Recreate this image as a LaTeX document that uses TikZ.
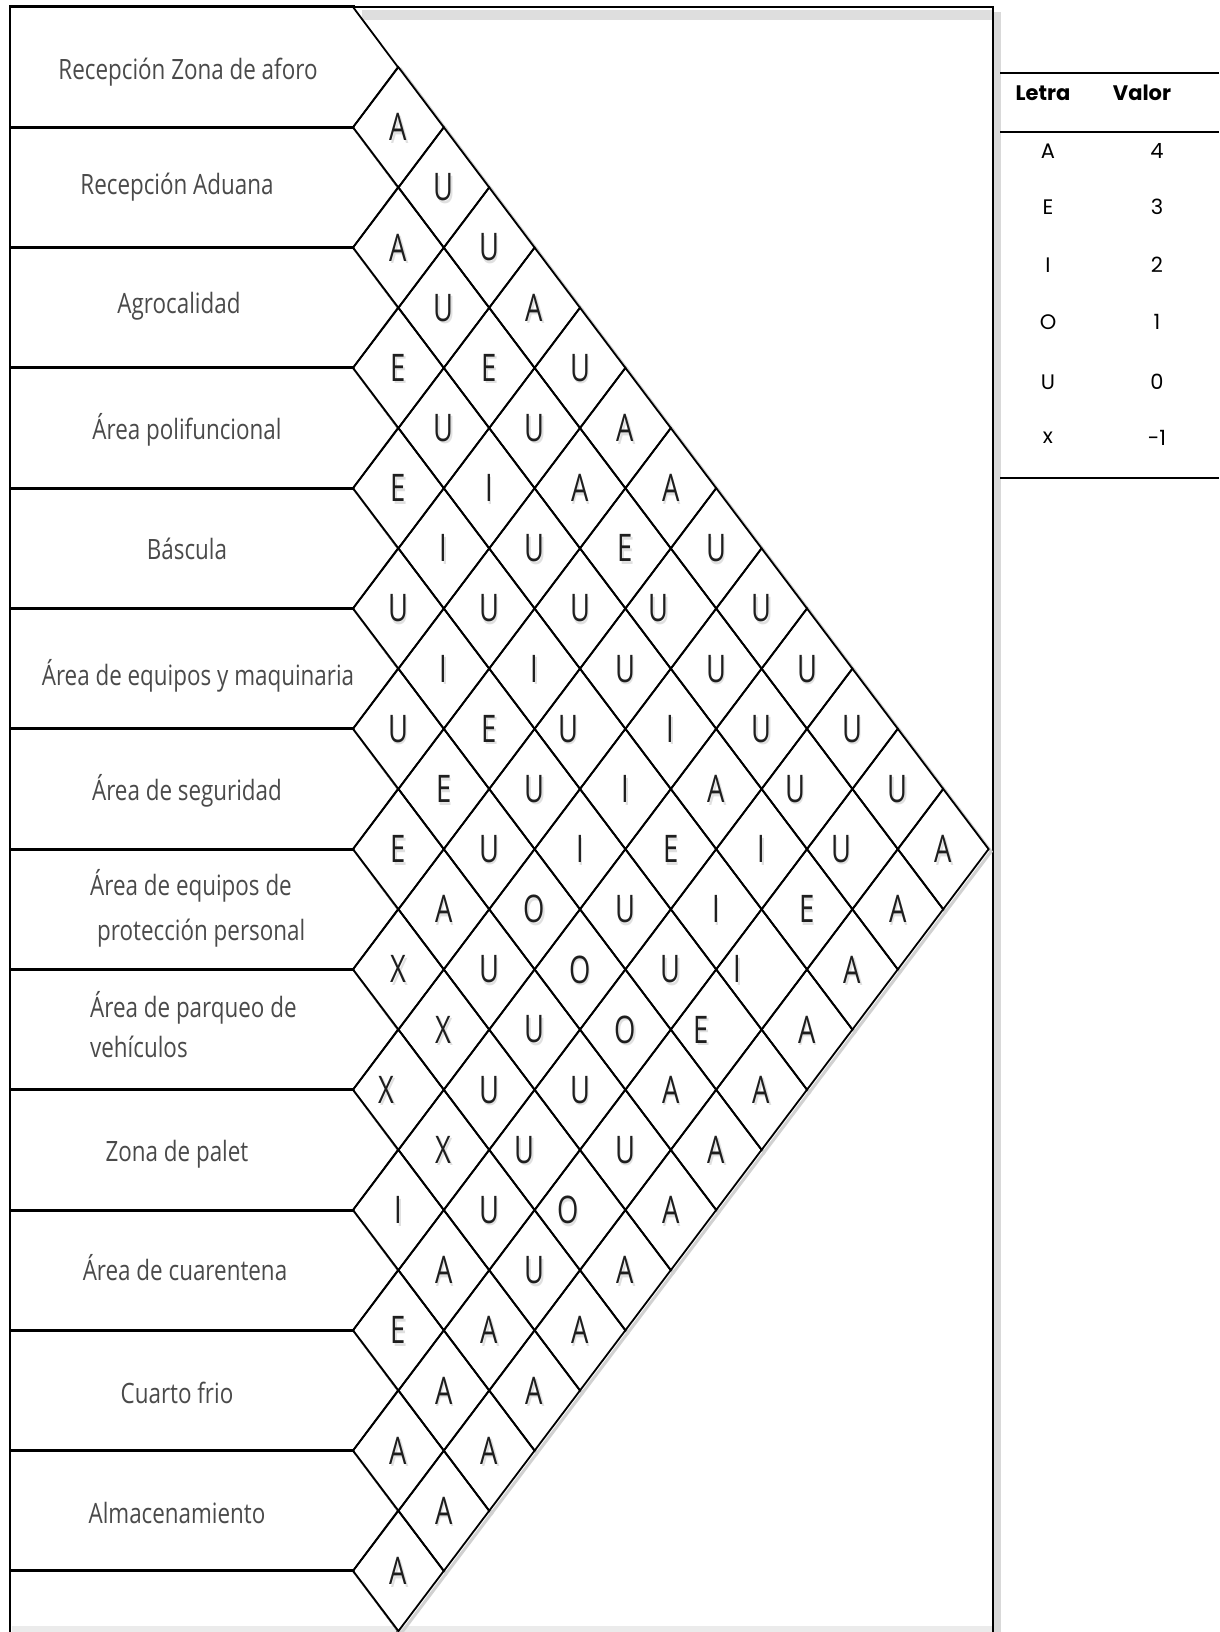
\documentclass[tikz,border=0pt]{standalone}
\usepackage{fontspec}
\setmainfont{Open Sans}
\newfontfamily\labfont[FakeStretch=0.8]{Open Sans}
\newfontfamily\letfont[FakeStretch=0.72]{Open Sans}
\newfontfamily\tabfont{Poppins}
\definecolor{labgray}{HTML}{4A4A4A}
\definecolor{letblack}{HTML}{1E1E1E}
\tikzset{
  lab/.style={font=\labfont\fontsize{28}{34}\selectfont, text=labgray, inner sep=0pt},
  letter/.style={font=\letfont\fontsize{38}{40}\selectfont, text=letblack, inner sep=0pt},
  lettershadow/.style={font=\letfont\fontsize{38}{40}\selectfont, text=black!12, inner sep=0pt},
  thead/.style={font=\tabfont\bfseries\fontsize{21}{24}\selectfont, inner sep=0pt},
  tcell/.style={font=\tabfont\fontsize{21}{24}\selectfont, inner sep=0pt},
  tline/.style={line width=2pt},
  hline/.style={line width=3pt, line cap=rect},
  chev/.style={line width=1.8pt, line join=miter},
  dline/.style={line width=1.8pt, line join=miter},
  dshadow/.style={line width=3pt, draw=black!18, line join=miter},
}
\def\pairs{1/2/A/0,1/3/U/0,1/4/U/0,1/5/A/0,1/6/U/0,1/7/A/0,1/8/A/0,1/9/U/0,1/10/U/0,1/11/U/0,1/12/U/0,1/13/U/0,1/14/A/0,
2/3/A/0,2/4/U/0,2/5/E/0,2/6/U/0,2/7/A/0,2/8/E/0,2/9/U/-12,2/10/U/0,2/11/U/0,2/12/U/-12,2/13/U/-11,2/14/A/0,
3/4/E/0,3/5/U/0,3/6/I/0,3/7/U/0,3/8/U/0,3/9/U/0,3/10/I/0,3/11/A/0,3/12/I/0,3/13/E/0,3/14/A/0,
4/5/E/0,4/6/I/0,4/7/U/0,4/8/I/0,4/9/U/-12,4/10/I/0,4/11/E/0,4/12/I/0,4/13/I/-24,4/14/A/0,
5/6/U/0,5/7/I/0,5/8/E/0,5/9/U/0,5/10/I/0,5/11/U/0,5/12/U/0,5/13/E/-15,5/14/A/0,
6/7/U/0,6/8/E/0,6/9/U/0,6/10/O/0,6/11/O/0,6/12/O/0,6/13/A/0,6/14/A/0,
7/8/E/0,7/9/A/0,7/10/U/0,7/11/U/0,7/12/U/0,7/13/U/0,7/14/A/0,
8/9/X/0,8/10/X/0,8/11/U/0,8/12/U/-10,8/13/O/-12,8/14/A/0,
9/10/X/-12,9/11/X/0,9/12/U/0,9/13/U/0,9/14/A/0,
10/11/I/0,10/12/A/0,10/13/A/0,10/14/A/0,
11/12/E/0,11/13/A/0,11/14/A/0,
12/13/A/0,12/14/A/0,
13/14/A/0}
\begin{document}
\begin{tikzpicture}[x=1pt,y=-1pt]
\useasboundingbox (0,0) rectangle (1219,1632);
\fill[white] (0,0) rectangle (1219,1632);
% frame with its shading
\fill[black!15] (994,12) rectangle (1001,1640);
\fill[black!13] (362,10) rectangle (993,20);
\fill[black!8] (12,1626) rectangle (993,1632);
\draw[line width=1.2pt] (10,7) rectangle (993,1660);
\draw[line width=2.4pt] (10,7) -- (10,1660);
% label boxes: chevrons and row lines
\foreach \k in {1,...,14} {
  \pgfmathsetmacro\ya{7+120.3*(\k-1)}
  \pgfmathsetmacro\yb{7+120.3*\k}
  \pgfmathsetmacro\yc{7+120.3*(\k-0.5)}
  \draw[chev] (353,\ya) -- (398,\yc) -- (353,\yb);
}
\foreach \k in {0,...,13} {
  \pgfmathsetmacro\ya{7+120.3*\k}
  \draw[hline] (10,\ya) -- (353,\ya);
}
% diamond shadows
\foreach \i/\j/\l/\o in \pairs {
  \pgfmathsetmacro\cx{353+45.4*(\j-\i)+2.5}
  \pgfmathsetmacro\cy{7+120.3*((\i+\j)/2-0.5)+2.5}
  \draw[dshadow] ({\cx-45.4},\cy) -- (\cx,{\cy-60.15}) -- ({\cx+45.4},\cy) -- (\cx,{\cy+60.15}) -- cycle;
}
% diamonds
\foreach \i/\j/\l/\o in \pairs {
  \pgfmathsetmacro\cx{353+45.4*(\j-\i)}
  \pgfmathsetmacro\cy{7+120.3*((\i+\j)/2-0.5)}
  \fill[white] ({\cx-44},\cy) -- (\cx,{\cy-58.5}) -- ({\cx+44},\cy) -- (\cx,{\cy+58.5}) -- cycle;
}
\foreach \i/\j/\l/\o in \pairs {
  \pgfmathsetmacro\cx{353+45.4*(\j-\i)}
  \pgfmathsetmacro\cy{7+120.3*((\i+\j)/2-0.5)}
  \draw[dline] ({\cx-45.4},\cy) -- (\cx,{\cy-60.15}) -- ({\cx+45.4},\cy) -- (\cx,{\cy+60.15}) -- cycle;
  \node[lettershadow] at ({\cx+\o+1.5},{\cy+2.5}) {\l};
  \node[letter] (p\i-\j) at ({\cx+\o},\cy) {\l};
}
% department labels
\node[lab, anchor=base] (r1) at (188,80) {Recepción Zona de aforo};
\node[lab, anchor=base] (r2) at (177,195) {Recepción Aduana};
\node[lab, anchor=base] (r3) at (179,313) {Agrocalidad};
\node[lab, anchor=base] (r4) at (187,439) {Área polifuncional};
\node[lab, anchor=base] (r5) at (187,559) {Báscula};
\node[lab, anchor=base] (r6) at (198,685) {Área de equipos y maquinaria};
\node[lab, anchor=base] (r7) at (187,800) {Área de seguridad};
\node[lab, anchor=base west] (r8a) at (90,895) {Área de equipos de};
\node[lab, anchor=base west] (r8b) at (97,940) {protección personal};
\node[lab, anchor=base west] (r9a) at (90,1017) {Área de parqueo de};
\node[lab, anchor=base west] (r9b) at (90,1057) {vehículos};
\node[lab, anchor=base] (r10) at (177,1161) {Zona de palet};
\node[lab, anchor=base] (r11) at (185,1280) {Área de cuarentena};
\node[lab, anchor=base] (r12) at (177,1403) {Cuarto frio};
\node[lab, anchor=base] (r13) at (177,1523) {Almacenamiento};
% value table
\draw[tline] (1000,73) -- (1219,73);
\draw[tline] (1000,132) -- (1219,132);
\draw[tline] (1000,478) -- (1219,478);
\node[thead] (hL) at (1043,93) {Letra};
\node[thead] (hV) at (1142,93) {Valor};
\foreach \n/\a/\b/\y in {1/A/4/151, 2/E/3/207, 3/I/2/265, 4/O/1/322, 5/U/0/382, 6/x/-1/438} {
  \node[tcell] (tl\n) at (1048,\y) {\a};
  \node[tcell] (tv\n) at (1157,\y) {\b};
}
\end{tikzpicture}
\end{document}
